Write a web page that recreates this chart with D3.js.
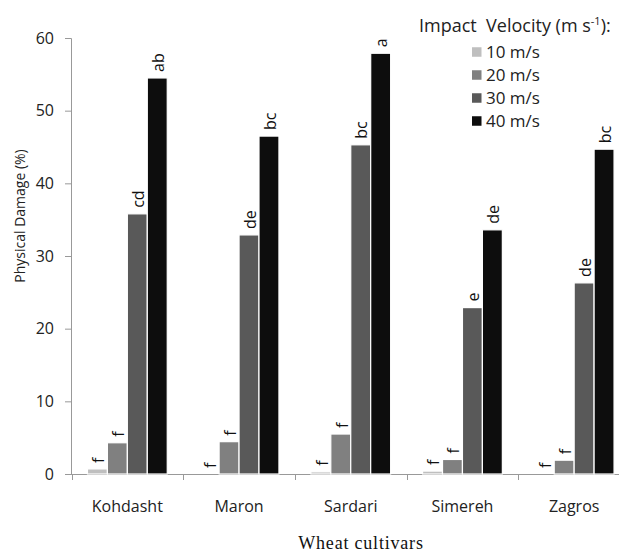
<!DOCTYPE html>
<html><head><meta charset="utf-8">
<script src="https://cdn.jsdelivr.net/npm/d3@7"></script>
<style>body{margin:0;background:#fff}svg{display:block}</style>
</head><body>
<svg id="c" width="619" height="556"></svg>
<script>
const categories = ["Kohdasht","Maron","Sardari","Simereh","Zagros"];
const seriesNames = ["10 m/s","20 m/s","30 m/s","40 m/s"];
const values = {
  "10 m/s": [0.7, 0, 0.3, 0.4, 0],
  "20 m/s": [4.3, 4.45, 5.5, 2.0, 1.9],
  "30 m/s": [35.8, 32.9, 45.3, 22.9, 26.3],
  "40 m/s": [54.5, 46.5, 57.9, 33.6, 44.7]
};
const letters = {
  "10 m/s": ["f","f","f","f","f"],
  "20 m/s": ["f","f","f","f","f"],
  "30 m/s": ["cd","de","bc","e","de"],
  "40 m/s": ["ab","bc","a","de","bc"]
};
const yTicks = [0,10,20,30,40,50,60];
const colors = ["#bfbfbf","#808080","#595959","#0d0d0d"];

const svg = d3.select("#c");
const font = "'Open Sans', sans-serif";
const x0 = d3.scaleBand().domain(categories).range([71.5, 630]).padding(0);
const x1 = d3.scaleBand().domain(seriesNames).range([0, x0.bandwidth()]).paddingInner(0).paddingOuter(0.8);
const y = d3.scaleLinear().domain([0,60]).range([474, 38]);
const color = d3.scaleOrdinal().domain(seriesNames).range(colors);

// y axis
const ya = svg.append("g").attr("transform","translate(71,0)")
  .call(d3.axisLeft(y).tickValues(yTicks).tickSize(6).tickPadding(11));
ya.select(".domain").attr("stroke","#999").attr("d","M-6,38.5H0.5V474.5");
ya.selectAll(".tick line").attr("stroke","#999");
ya.selectAll("text").attr("font-family",font).attr("font-size","16px").attr("fill","#222");

// x axis
const xa = svg.append("g").attr("transform","translate(0,474)")
  .call(d3.axisBottom(x0).tickSize(0).tickPadding(0));
xa.select(".domain").attr("stroke","#999").attr("d","M71,0.5H619");
xa.selectAll("text").attr("font-family",font).attr("font-size","16px").attr("fill","#222")
  .attr("y", 38).attr("dy", 0);
xa.selectAll(".bound").data(categories).enter().append("line")
  .attr("x1", d => Math.round(x0(d))+0.5).attr("x2", d => Math.round(x0(d))+0.5)
  .attr("y1", 0).attr("y2", 6).attr("stroke","#999");

// bars
const rows = [];
categories.forEach((c,i) => seriesNames.forEach(s => rows.push({c, s, v: values[s][i], l: letters[s][i]})));
const g = svg.append("g");
g.selectAll("rect").data(rows).enter().append("rect")
  .attr("x", d => x0(d.c) + x1(d.s))
  .attr("y", d => y(d.v))
  .attr("width", x1.bandwidth())
  .attr("height", d => y(0) - y(d.v))
  .attr("fill", d => color(d.s))
  .attr("stroke", "#fff").attr("stroke-width", 1.2);

g.selectAll("text.lt").data(rows).enter().append("text")
  .attr("class","lt")
  .attr("transform", d => `translate(${x0(d.c)+x1(d.s)+x1.bandwidth()/2},${y(d.v)-6}) rotate(-90)`)
  .attr("dy","0.42em")
  .attr("font-family",font).attr("font-size","16px").attr("fill","#111")
  .text(d => d.l);

// axis titles
svg.append("text").attr("transform","translate(20,216) rotate(-90)")
  .attr("text-anchor","middle").attr("dy","0.35em")
  .attr("font-family",font).attr("font-size","14px").attr("fill","#222")
  .text("Physical Damage (%)");
svg.append("text").attr("x",361).attr("y",549).attr("text-anchor","middle")
  .attr("font-family","'Liberation Serif', serif").attr("font-size","18px").attr("fill","#111")
  .attr("letter-spacing","0.8px")
  .text("Wheat cultivars");

// legend
const lt = svg.append("text").attr("x",419).attr("y",32)
  .attr("font-family",font).attr("font-size","18px").attr("fill","#222");
lt.append("tspan").text("Impact\u00a0 Velocity (m s");
lt.append("tspan").attr("font-size","11px").attr("dy","-7").text("-1");
lt.append("tspan").attr("dy","7").text("):");
const lg = svg.append("g").selectAll("g").data(seriesNames).enter().append("g")
  .attr("transform",(d,i)=>`translate(472,${52 + i*23})`);
lg.append("rect").attr("x",0).attr("y",-4.75).attr("width",9.5).attr("height",9.5).attr("fill",d=>color(d));
lg.append("text").attr("x",14).attr("dy","0.36em")
  .attr("font-family",font).attr("font-size","17px").attr("fill","#222").text(d=>d);
</script>
</body></html>
